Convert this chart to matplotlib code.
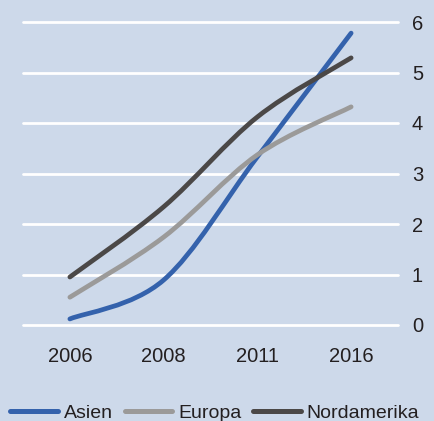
import matplotlib
matplotlib.use("Agg")
import matplotlib.pyplot as plt
import numpy as np
from matplotlib.path import Path
import matplotlib.patches as mpatches
from matplotlib.lines import Line2D

plt.rcParams["font.family"] = ["Liberation Sans", "DejaVu Sans"]

# Daten
jahre = ["2006", "2008", "2011", "2016"]
asien = [0.12, 0.89, 3.33, 5.78]
europa = [0.55, 1.74, 3.37, 4.32]
nordamerika = [0.95, 2.34, 4.12, 5.29]

HINTERGRUND = "#cdd9ea"
FARBEN = {"Asien": "#3462ac", "Europa": "#9b9a99", "Nordamerika": "#4b4847"}
TEXTFARBE = "#231f20"


def glatte_kurve(xs, ys):
    """Geglaettete Linie (wie Excel) als Bezier-Pfad durch die Punkte"""
    p = np.column_stack([xs, ys]).astype(float)
    n = len(p)
    verts = [p[0]]
    codes = [Path.MOVETO]
    for i in range(n - 1):
        p0 = p[i - 1] if i > 0 else p[i]
        p1 = p[i]
        p2 = p[i + 1]
        p3 = p[i + 2] if i + 2 < n else p[i + 1]
        c1 = p1 + (p2 - p0) / 6.0
        c2 = p2 - (p3 - p1) / 6.0
        verts += [c1, c2, p2]
        codes += [Path.CURVE4] * 3
    return Path(verts, codes)


fig = plt.figure(figsize=(4.35, 4.21), dpi=100, facecolor=HINTERGRUND)
ax = fig.add_axes([23 / 435, 1 - 325 / 421, 375 / 435, 303 / 421])
ax.set_facecolor(HINTERGRUND)

x = np.arange(len(jahre))
for name, werte in [("Asien", asien), ("Europa", europa), ("Nordamerika", nordamerika)]:
    pfad = glatte_kurve(x, werte)
    patch = mpatches.PathPatch(pfad, facecolor="none", edgecolor=FARBEN[name],
                               linewidth=3.4, capstyle="round", joinstyle="round",
                               zorder=3, clip_on=False)
    ax.add_patch(patch)

ax.set_xlim(-0.5, len(jahre) - 0.5)
ax.set_ylim(0, 6)
ax.set_xticks(x)
ax.set_xticklabels(jahre)
ax.set_yticks(range(0, 7))

for y in range(0, 7):
    ax.axhline(y, color="white", linewidth=2.0, solid_capstyle="round", zorder=1, clip_on=False)

for s in ax.spines.values():
    s.set_visible(False)

ax.yaxis.tick_right()
ax.tick_params(axis="both", length=0, labelsize=14.5, colors=TEXTFARBE)
ax.tick_params(axis="y", pad=10)
ax.tick_params(axis="x", pad=16)

griffe = [Line2D([], [], color=FARBEN[n], linewidth=3.6, solid_capstyle="round") for n in FARBEN]
leg = fig.legend(griffe, list(FARBEN.keys()), loc="lower left", bbox_to_anchor=(10 / 435, -1 / 421),
                 ncol=3, frameon=False, fontsize=14.0, handlelength=2.45, handletextpad=0.3,
                 columnspacing=0.62, borderpad=0, borderaxespad=0)
for t in leg.get_texts():
    t.set_color(TEXTFARBE)

fig.savefig("out.png", dpi=100, facecolor=HINTERGRUND)
